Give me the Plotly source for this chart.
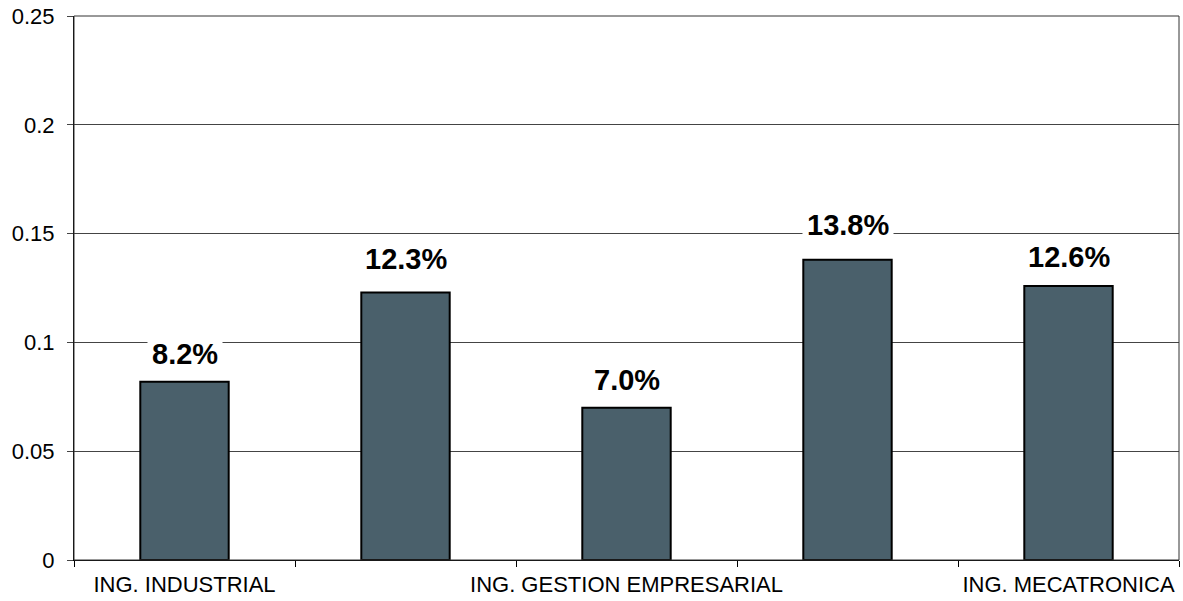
import plotly.graph_objects as go

positions = [0, 1, 2, 3, 4]
tick_labels = ["ING. INDUSTRIAL", "", "ING. GESTION EMPRESARIAL", "", "ING. MECATRONICA"]
values = [0.082, 0.123, 0.070, 0.138, 0.126]
value_labels = ["8.2%", "12.3%", "7.0%", "13.8%", "12.6%"]
y_ticks = [0, 0.05, 0.1, 0.15, 0.2, 0.25]
y_tick_text = ["0", "0.05", "0.1", "0.15", "0.2", "0.25"]

# label offsets above bars (pixels, style only)
label_yshift = [28, 33, 28, 35, 29]

fig = go.Figure()
fig.add_trace(go.Bar(
    x=positions, y=values,
    marker=dict(color="#4a606b", line=dict(color="#000000", width=2)),
    width=0.4, hoverinfo="skip",
))

for xv, yv, lab, ys in zip(positions, values, value_labels, label_yshift):
    fig.add_annotation(
        x=xv, y=yv, text="<b>" + lab + "</b>", showarrow=False,
        yanchor="middle", yshift=ys,
        font=dict(family="Liberation Sans, Arial", size=29, color="#000000"),
        bgcolor="#ffffff", borderpad=4,
    )

# plot-area frame (top and right edges)
fig.add_shape(type="rect", xref="paper", yref="paper", x0=0, x1=1, y0=0, y1=1,
              line=dict(color="#333333", width=1), layer="above")

fig.update_layout(
    width=1183, height=601,
    margin=dict(l=74, r=4, t=16, b=41, autoexpand=False),
    paper_bgcolor="#ffffff", plot_bgcolor="#ffffff",
    showlegend=False,
    font=dict(family="Liberation Sans, Arial", color="#000000"),
)
fig.update_xaxes(
    range=[-0.5, 4.5],
    tickmode="array", tickvals=positions, ticktext=tick_labels,
    ticks="", showgrid=False, zeroline=False, automargin=False,
    showline=True, linecolor="#000000", linewidth=1,
    tickfont=dict(size=22, family="Liberation Sans, Arial"),
    ticklabelstandoff=5, ticklabeloverflow="allow",
    minor=dict(ticks="outside", tick0=-0.5, dtick=1, ticklen=6,
               tickcolor="#000000", showgrid=False),
)
fig.update_yaxes(
    range=[0, 0.2501],
    tickmode="array", tickvals=y_ticks, ticktext=y_tick_text,
    ticks="outside", ticklen=6, tickcolor="#444444",
    showgrid=True, gridcolor="#444444", gridwidth=1,
    zeroline=False, automargin=False,
    showline=True, linecolor="#000000", linewidth=1,
    tickfont=dict(size=22, family="Liberation Sans, Arial"),
    ticklabelstandoff=8, ticklabeloverflow="allow",
)

fig.write_html(
    "out.html",
    config={"displayModeBar": False, "staticPlot": True},
    post_script="document.body.style.margin='0';document.body.style.overflow='hidden';",
)
